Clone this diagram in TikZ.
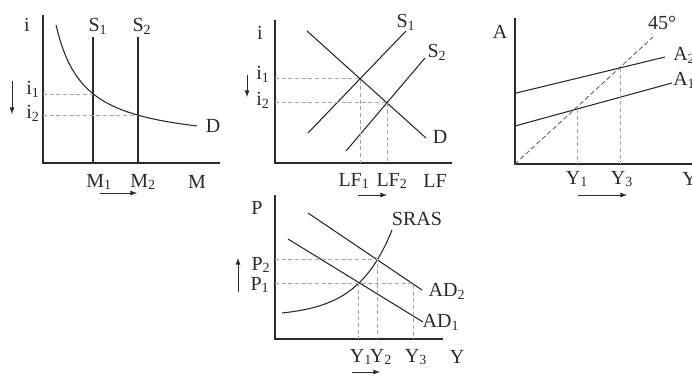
\documentclass[tikz,border=0pt]{standalone}
\usepackage{fontspec}
\setmainfont{Liberation Serif}
\usepackage{tikz}
\definecolor{ink}{HTML}{2A2A2A}
\definecolor{guideline}{HTML}{A6A6A6}
\definecolor{diag}{HTML}{6A6A6A}

\begin{document}
\begin{tikzpicture}[x=0.75pt,y=-0.75pt,
        curve/.style={ink,line width=0.8pt},
        guide/.style={guideline,line width=0.5pt,dash pattern=on 3pt off 2pt},
        lab/.style={font=\fontsize{15}{18}\selectfont,text=ink,inner sep=0pt},
        movearrow/.style={ink,line width=0.7pt,-latex}]
        \useasboundingbox (0,0) rectangle (692,375);

        % money market
        \draw[curve] (43,15) -- (43,163) -- (220,163);
        \foreach \x in {93,138}{
                \draw[curve] (\x,37) -- (\x,163);
            }
        \draw[curve] plot[domain=56:197,samples=60] (\x,{146.2-3422/(\x-27.77)});
        \draw[guide] (43,94) -- (93,94);
        \draw[guide] (43,115) -- (138,115);
        \draw[movearrow] (12,81) -- (12,114);
        \draw[movearrow] (100,193) -- (137,193);
        \node[lab] (mI) at (27,25) {i};
        \node[lab] (mS1) at (98,26) {S\textsubscript{1}};
        \node[lab] (mS2) at (142,26) {S\textsubscript{2}};
        \node[lab] (mD) at (213,126) {D};
        \node[lab] (mI1) at (33,89) {i\textsubscript{1}};
        \node[lab] (mI2) at (33,113) {i\textsubscript{2}};
        \node[lab] (mM1) at (99,182) {M\textsubscript{1}};
        \node[lab] (mM2) at (143,182) {M\textsubscript{2}};
        \node[lab] (mM) at (197,182) {M};

        % loanable funds
        \draw[curve] (275,20) -- (275,163) -- (452,163);
        \draw[curve] (307,31) -- (426,138);
        \draw[curve] (308,133) -- (406,31);
        \draw[curve] (346,151) -- (425,58);
        \draw[guide] (275,78) -- (360,78) -- (360,163);
        \draw[guide] (275,102) -- (387,102) -- (387,163);
        \draw[movearrow] (247,75) -- (247,97);
        \draw[movearrow] (358,195) -- (387,195);
        \node[lab] (fI) at (260,33) {i};
        \node[lab] (fS1) at (406,22) {S\textsubscript{1}};
        \node[lab] (fS2) at (437,52) {S\textsubscript{2}};
        \node[lab] (fD) at (440,137) {D};
        \node[lab] (fI1) at (263,74) {i\textsubscript{1}};
        \node[lab] (fI2) at (263,100) {i\textsubscript{2}};
        \node[lab] (fLF1) at (354,181) {LF\textsubscript{1}};
        \node[lab] (fLF2) at (392,181) {LF\textsubscript{2}};
        \node[lab] (fLF) at (435,181) {LF};

        % keynesian cross
        \draw[curve] (515,18) -- (515,164) -- (693,164);
        \draw[diag,line width=0.7pt,dash pattern=on 3.5pt off 2pt] (515,164) -- (653,37);
        \draw[curve] (515,93.3) -- (665,57);
        \draw[curve] (515,126) -- (672,83);
        \draw[guide] (577,109) -- (577,164);
        \draw[guide] (620,68) -- (620,164);
        \draw[movearrow] (578,195) -- (627,195);
        \node[lab] (kA) at (500,32) {A};
        \node[lab] (k45) at (662,23) {45°};
        \node[lab,anchor=west] (kA2) at (673,55) {A\textsubscript{2}};
        \node[lab,anchor=west] (kA1) at (673,80) {A\textsubscript{1}};
        \node[lab] (kY1) at (577,179) {Y\textsubscript{1}};
        \node[lab] (kY3) at (622,179) {Y\textsubscript{3}};
        \node[lab,anchor=west] (kY) at (682,179) {Y};

        % AD-AS
        \draw[curve] (275,195) -- (275,339) -- (443,339);
        \draw[curve] plot[domain=282:392,samples=60] (\x,{313-3.74*(exp((\x-282)/35)-1)});
        \draw[curve] (308,213) -- (422,290);
        \draw[curve] (288,239) -- (423,322);
        \draw[guide] (275,259) -- (377,259) -- (377,339);
        \draw[guide] (275,283) -- (413,283) -- (413,339);
        \draw[guide] (358,283) -- (358,339);
        \draw[movearrow] (238,292) -- (238,258);
        \draw[movearrow] (352,372) -- (380,372);
        \node[lab] (aP) at (257,208) {P};
        \node[lab] (aSRAS) at (417,219) {SRAS};
        \node[lab] (aAD2) at (447,291) {AD\textsubscript{2}};
        \node[lab] (aAD1) at (441,322) {AD\textsubscript{1}};
        \node[lab] (aP2) at (261,265) {P\textsubscript{2}};
        \node[lab] (aP1) at (260,285) {P\textsubscript{1}};
        \node[lab] (aY1) at (361,357) {Y\textsubscript{1}};
        \node[lab] (aY2) at (381,357) {Y\textsubscript{2}};
        \node[lab] (aY3) at (416,357) {Y\textsubscript{3}};
        \node[lab] (aY) at (457,357) {Y};
    \end{tikzpicture}
\end{document}
